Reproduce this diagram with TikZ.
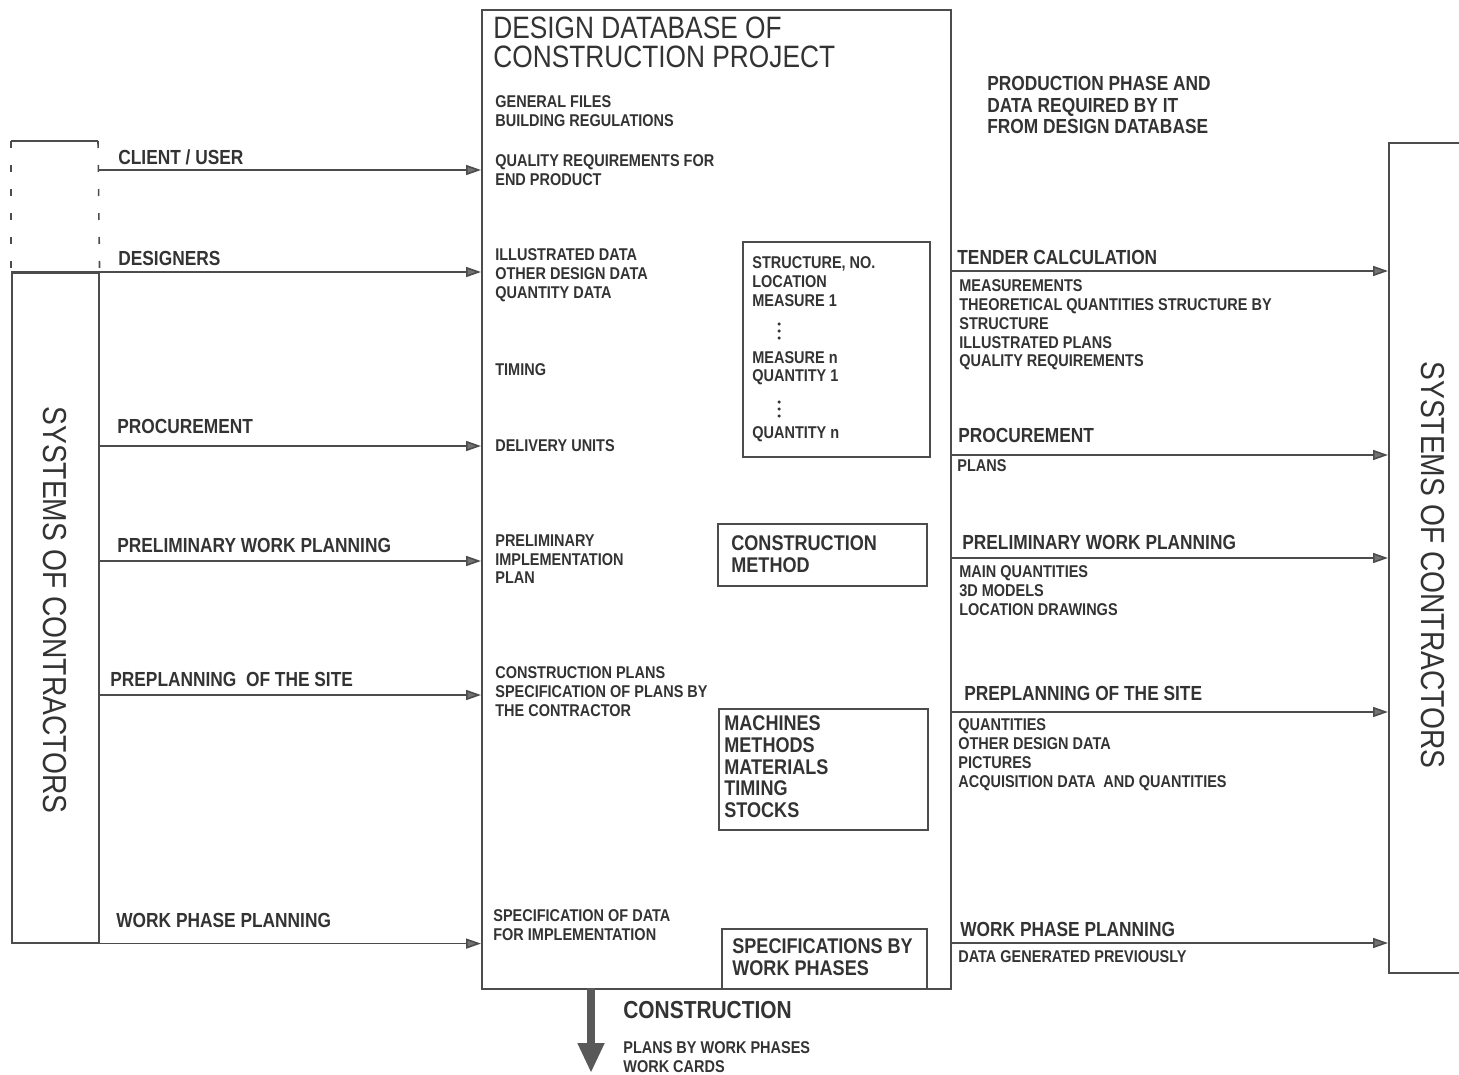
\documentclass[tikz,border=0pt]{standalone}
\usepackage{fontspec}
\setmainfont{Liberation Sans}[FakeStretch=0.85]
\usepackage{tikz}
\usetikzlibrary{arrows.meta}
\definecolor{ink}{gray}{0.2}
\definecolor{rule}{gray}{0.3}
\definecolor{tipgray}{gray}{0.45}

\begin{document}
\begin{tikzpicture}[x=0.2mm, y=-0.2mm]

    \def\px{0.2mm}
    \def\gap{7.6mm}

    % one unit of the picture is one pixel of the scan
    \tikzset{
        box/.style={draw=rule, line width=0.9pt, inner sep=0pt, anchor=north west},
        edge/.style={draw=rule, line width=0.9pt},
        flow/.style={edge, -{Triangle[length=3mm, width=2mm, fill=tipgray]}},
        bigflow/.style={draw=black!65, line width=1.6mm, -{Triangle[length=6mm, width=5mm]}},
        txt/.style={text=ink, inner sep=0pt, align=left, anchor=north west},
        small/.style={txt, font=\bfseries\fontsize{9.7}{10.77}\selectfont},
        head/.style={txt, font=\bfseries\fontsize{11.6}{12.19}\selectfont},
        big/.style={txt, font=\bfseries\fontsize{12.1}{12.47}\selectfont},
        title/.style={txt, font=\fontsize{17.6}{16.4}\selectfont},
        side/.style={text=ink, inner sep=0pt, rotate=-90, font=\fontsize{18.9}{20}\selectfont}
    }

    \useasboundingbox (0,0) rectangle (1459,1075);

    % boxes
    \node (main) [box, minimum width=469*\px, minimum height=979*\px] at (481,9) {};
    \node (sysL) [box, minimum width=87*\px, minimum height=670*\px] at (11,272) {};
    \node (sysR) [box, minimum width=95*\px, minimum height=830*\px] at (1388,142) {};
    \node (struct) [box, minimum width=187*\px, minimum height=215*\px] at (742,241) {};
    \node (method) [box, minimum width=209*\px, minimum height=62*\px] at (717,523) {};
    \node (means) [box, minimum width=209*\px, minimum height=121*\px] at (718,708) {};
    \node (phases) [box, minimum width=205*\px, minimum height=60*\px] at (721,928) {};

    % dashed part above the contractors
    \coordinate (ext1) at (11,141);
    \coordinate (ext2) at (98,141);
    \draw[edge] (ext1) -- (ext2);
    \draw[edge, dash pattern=on 1.4mm off 3.4mm] (ext1) -- (sysL.north west);
    \draw[edge, dash pattern=on 1.4mm off 3.4mm] (ext2) -- (sysL.north east);

    % title and contents of the database
    \node (ttl) [title] at (493,17) {DESIGN DATABASE OF\\CONSTRUCTION PROJECT};
    \node (files) [small] at (495,95) {GENERAL FILES\\BUILDING REGULATIONS};
    \node (quality) [small] at (495,154) {QUALITY REQUIREMENTS FOR\\END PRODUCT};
    \node (illus) [small] at (495,248) {ILLUSTRATED DATA\\OTHER DESIGN DATA\\QUANTITY DATA};
    \node (timing) [small] at (495,363) {TIMING};
    \node (units) [small] at (495,439) {DELIVERY UNITS};
    \node (impl) [small] at (495,534) {PRELIMINARY\\IMPLEMENTATION\\PLAN};
    \node (plans) [small] at (495,666) {CONSTRUCTION PLANS\\SPECIFICATION OF PLANS BY\\THE CONTRACTOR};
    \node (spec) [small] at (493,909) {SPECIFICATION OF DATA\\FOR IMPLEMENTATION};

    \node (structtxt) [small] at (752,256)
    {STRUCTURE, NO.\\LOCATION\\MEASURE 1\\[\gap]MEASURE n\\QUANTITY 1\\[\gap]QUANTITY n};
    \foreach \y in {324,331,338,402,409,416}
        \fill[ink] (779,\y) circle[radius=0.35mm];
    \node (methodtxt) [big] at (731,535) {CONSTRUCTION\\METHOD};
    \node (meanstxt) [big] at (724,715) {MACHINES\\METHODS\\MATERIALS\\TIMING\\STOCKS};
    \node (phasestxt) [big] at (732,938) {SPECIFICATIONS BY\\WORK PHASES};

    % left side
    \node (sysLtxt) [side] at (55,610) {SYSTEMS OF CONTRACTORS};
    \node (client) [head] at (118,149) {CLIENT / USER};
    \node (design) [head] at (118,251) {DESIGNERS};
    \node (procL) [head] at (117,419) {PROCUREMENT};
    \node (prelL) [head] at (117,538) {PRELIMINARY WORK PLANNING};
    \node (siteL) [head] at (110,672) {PREPLANNING~ OF THE SITE};
    \node (workL) [head] at (116,913) {WORK PHASE PLANNING};

    % right side
    \node (phase) [head] at (987,76) {PRODUCTION PHASE AND\\DATA REQUIRED BY IT\\FROM DESIGN DATABASE};
    \node (sysRtxt) [side] at (1433,565) {SYSTEMS OF CONTRACTORS};
    \node (tender) [head] at (957,250) {TENDER CALCULATION};
    \node (tenderdata) [small] at (959,279)
    {MEASUREMENTS\\THEORETICAL QUANTITIES STRUCTURE BY\\STRUCTURE\\ILLUSTRATED PLANS\\QUALITY REQUIREMENTS};
    \node (procR) [head] at (958,428) {PROCUREMENT};
    \node (procdata) [small] at (957,459) {PLANS};
    \node (prelR) [head] at (962,535) {PRELIMINARY WORK PLANNING};
    \node (preldata) [small] at (959,565) {MAIN QUANTITIES\\3D MODELS\\LOCATION DRAWINGS};
    \node (siteR) [head] at (964,686) {PREPLANNING OF THE SITE};
    \node (sitedata) [small] at (958,718)
    {QUANTITIES\\OTHER DESIGN DATA\\PICTURES\\ACQUISITION DATA~ AND QUANTITIES};
    \node (workR) [head] at (960,922) {WORK PHASE PLANNING};
    \node (workdata) [small] at (958,950) {DATA GENERATED PREVIOUSLY};

    % bottom
    \node (constr) [txt, font=\bfseries\fontsize{14}{16}\selectfont] at (623,1001) {CONSTRUCTION};
    \node (cards) [small] at (623,1041) {PLANS BY WORK PHASES\\WORK CARDS};

    % connectors
    \coordinate (cl) at (98,170);
    \coordinate (out) at (591,988);
    \coordinate (site) at (591,1073);
    \begin{scope}
        \draw[flow] (cl) -- (cl -| main.west);
        \draw[flow] (sysL.north west) -- (sysL.north west -| main.west);
        \foreach \y in {446,561,695}
            \draw[flow] (sysL.east |- 0,\y) -- (main.west |- 0,\y);
        \draw[flow] (sysL.south west) -- (sysL.south west -| main.west);
        \foreach \y in {271,455,558,712,943}
            \draw[flow] (main.east |- 0,\y) -- (sysR.west |- 0,\y);
        \draw[bigflow] (out) -- (site);
    \end{scope}

\end{tikzpicture}
\end{document}
